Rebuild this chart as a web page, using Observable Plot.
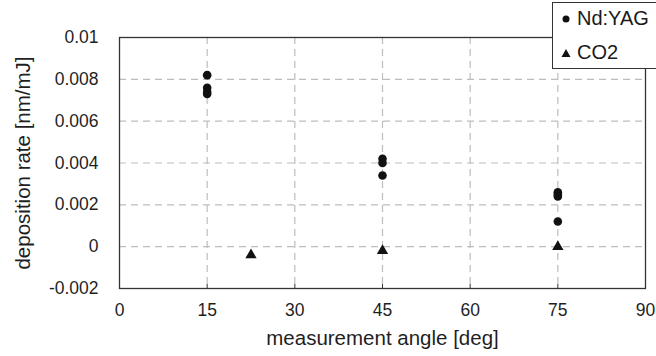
<!DOCTYPE html>
<html>
<head>
<meta charset="utf-8">
<script src="https://cdn.jsdelivr.net/npm/d3@7"></script>
<script src="https://cdn.jsdelivr.net/npm/@observablehq/plot@0.6"></script>
<style>
  html, body { margin: 0; padding: 0; background: #fff; }
  #chart { position: relative; width: 656px; height: 356px; overflow: hidden; font-family: "Liberation Sans", Arial, sans-serif; }
  #legend {
    position: absolute; left: 552px; top: 2px; width: 110px; height: 67px;
    border: 1.3px solid #333; background: #fff; box-sizing: border-box;
    font-size: 20px; line-height: 23px; color: #1a1a1a;
  }
  #legend .row { position: absolute; left: 8px; display: flex; align-items: center; gap: 6px; }
  #legend svg { display: block; }
</style>
</head>
<body>
<div id="chart"></div>
<script>
// Deposition rate per pulse energy, by measurement angle and laser type
const ndyagAngle = [15, 15, 15, 15, 45, 45, 45, 75, 75, 75, 75];
const ndyagRate  = [0.0082, 0.0076, 0.0074, 0.0073, 0.0042, 0.0040, 0.0034, 0.0026, 0.0025, 0.0024, 0.0012];
const co2Angle   = [22.5, 45, 75];
const co2Rate    = [-0.0004, -0.0002, 0.0000];

const xTicks = [0, 15, 30, 45, 60, 75, 90];
const yTicks = [-0.002, 0, 0.002, 0.004, 0.006, 0.008, 0.01];
const seriesNames = ["Nd:YAG", "CO2"];

const ndyag = ndyagAngle.map((a, i) => ({angle: a, rate: ndyagRate[i]}));
const co2 = co2Angle.map((a, i) => ({angle: a, rate: co2Rate[i]}));

const fmt = d => String(+d.toFixed(3));
const ink = "#111";
const textInk = "#1f1f1f";
const frameInk = "#333";
const gridInk = "#bdbdbd";

const chart = Plot.plot({
  width: 656,
  height: 356,
  marginLeft: 119,
  marginRight: 11,
  marginTop: 37,
  marginBottom: 68,
  style: {fontFamily: "Liberation Sans, Arial, sans-serif", fontSize: "16px", color: textInk, background: "#fff"},
  x: {domain: [0, 90], ticks: xTicks},
  y: {domain: [-0.002, 0.01], ticks: yTicks},
  marks: [
    Plot.gridX(xTicks.slice(1, -1), {stroke: gridInk, strokeOpacity: 1, strokeWidth: 1.2, strokeDasharray: "7,5"}),
    Plot.gridY(yTicks.slice(1, -1), {stroke: gridInk, strokeOpacity: 1, strokeWidth: 1.2, strokeDasharray: "7,5"}),
    Plot.frame({stroke: frameInk, strokeWidth: 1.3}),
    Plot.axisX(xTicks, {tickSize: -4, tickPadding: 19, stroke: frameInk, tickFormat: fmt, fontSize: 17.5, fill: textInk,
      label: "measurement angle [deg]", labelAnchor: "center", labelArrow: "none", labelOffset: 56}),
    Plot.axisY(yTicks, {tickSize: 0, tickPadding: 21, tickFormat: fmt, fontSize: 17.5, fill: textInk,
      label: "deposition rate [nm/mJ]", labelAnchor: "center", labelArrow: "none", labelOffset: 104}),
    Plot.dot(ndyag, {x: "angle", y: "rate", symbol: "circle", r: 4.3, fill: ink, stroke: "none"}),
    Plot.dot(co2, {x: "angle", y: "rate", symbol: "triangle", r: 4.2, fill: ink, stroke: "none"})
  ]
});

// enlarge the axis titles
d3.select(chart).selectAll("text")
  .filter(function() { return /\[/.test(this.textContent); })
  .style("font-size", "20.5px");

const host = document.getElementById("chart");
host.appendChild(chart);

// legend box in the top right corner
const legend = document.createElement("div");
legend.id = "legend";
const symbols = [
  '<svg width="10" height="10"><circle cx="5" cy="5" r="3.5" fill="' + ink + '"/></svg>',
  '<svg width="10" height="10"><path d="M5,1 L9.5,9 L0.5,9 Z" fill="' + ink + '"/></svg>'
];
seriesNames.forEach((name, i) => {
  const row = document.createElement("div");
  row.className = "row";
  row.style.top = (i === 0 ? 4 : 38) + "px";
  row.innerHTML = symbols[i] + "<span>" + name + "</span>";
  legend.appendChild(row);
});
host.appendChild(legend);
</script>
</body>
</html>
